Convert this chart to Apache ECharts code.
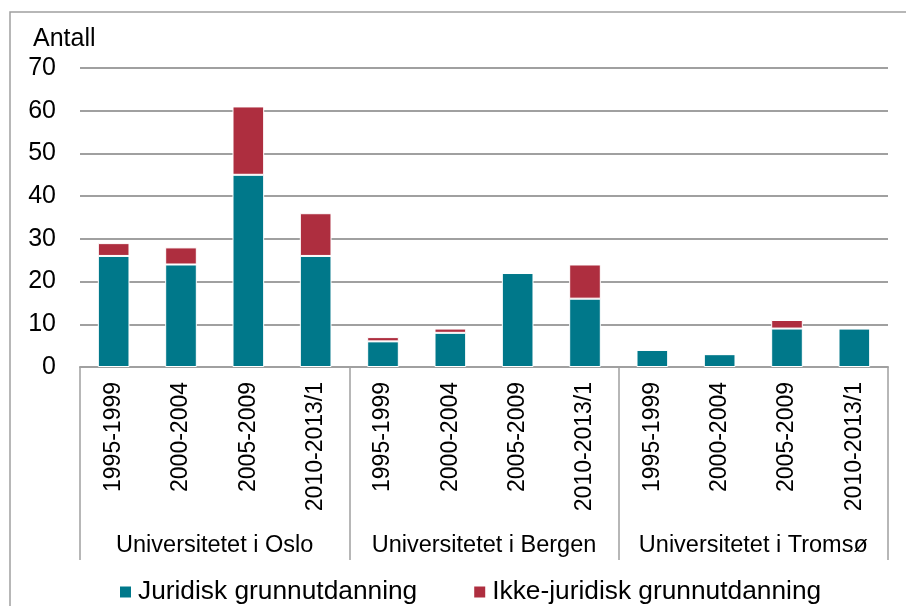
<!DOCTYPE html>
<html><head><meta charset="utf-8">
<script src="https://cdn.jsdelivr.net/npm/echarts@6/dist/echarts.min.js"></script>
<style>html,body{margin:0;padding:0;background:#fff}#c{width:906px;height:606px}</style>
</head><body><div id="c"></div>
<script>
var periods = ['1995-1999','2000-2004','2005-2009','2010-2013/1'];
var groups = ['Universitetet i Oslo','Universitetet i Bergen','Universitetet i Tromsø'];
var juridisk = [26,24,45,26, 6,8,22,16, 4,3,9,9];
var ikkeJuridisk = [3,4,16,10, 1,1,0,8, 0,0,2,0];
var yTicks = {min:0, max:70, interval:10};
var categories = [];
groups.forEach(function(){ periods.forEach(function(p){ categories.push(p); }); });
var font = 'Liberation Sans, Arial, sans-serif';
var chart = echarts.init(document.getElementById('c'));
chart.setOption({
  animation:false,
  textStyle:{fontFamily:font},
  graphic:[{type:'rect',shape:{x:10,y:12,width:1000,height:1000},style:{fill:'none',stroke:'#a0a0a0',lineWidth:1.5},silent:true}],
  title:{text:'Antall',left:28,top:22,textStyle:{fontFamily:font,fontSize:25,fontWeight:'normal',color:'#000'}},
  grid:{left:80,right:18,top:68,bottom:239},
  legend:{top:574,left:113,icon:'rect',itemWidth:13,itemHeight:13,itemGap:55,
    textStyle:{fontFamily:font,fontSize:26.3,color:'#000',padding:[0,0,0,1]},data:['Juridisk grunnutdanning','Ikke-juridisk grunnutdanning']},
  xAxis:[{
    type:'category',data:categories,
    axisLine:{lineStyle:{color:'#a0a0a0',width:2}},
    axisTick:{show:false},
    axisLabel:{rotate:90,interval:0,margin:15,fontSize:23,color:'#000',fontFamily:font}
  },{
    type:'category',data:groups,position:'bottom',
    axisLine:{show:false},
    axisTick:{show:true,length:193,interval:0,lineStyle:{color:'#a0a0a0',width:1.5}},
    axisLabel:{interval:0,margin:167,fontSize:23.5,color:'#000',fontFamily:font}
  }],
  yAxis:{type:'value',min:yTicks.min,max:yTicks.max,interval:yTicks.interval,
    axisLine:{show:false},axisTick:{show:false},
    axisLabel:{margin:24,fontSize:25,color:'#000',fontFamily:font},
    splitLine:{lineStyle:{color:'#a0a0a0',width:2}}},
  series:[
    {name:'Juridisk grunnutdanning',type:'bar',stack:'a',data:juridisk,barWidth:'47%',
     itemStyle:{color:'#00788A',borderColor:'#fff',borderWidth:1}},
    {name:'Ikke-juridisk grunnutdanning',type:'bar',stack:'a',data:ikkeJuridisk,barWidth:'47%',
     itemStyle:{color:'#AE2E3F',borderColor:'#fff',borderWidth:1}}
  ]
});
</script></body></html>
